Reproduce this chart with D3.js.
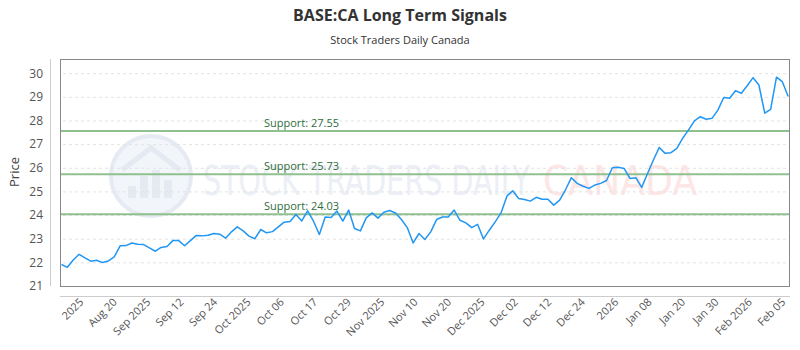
<!DOCTYPE html>
<html><head><meta charset="utf-8">
<script src="https://cdn.jsdelivr.net/npm/d3@7/dist/d3.min.js"></script>
<style>body{margin:0;background:#fff}svg{display:block}</style>
</head><body>
<svg id="chart" width="800" height="350"></svg>
<script>
const prices = [
  21.91,21.79,22.10,22.34,22.19,22.05,22.09,21.99,22.06,22.23,
  22.70,22.71,22.82,22.77,22.75,22.61,22.47,22.63,22.67,22.92,
  22.92,22.70,22.92,23.14,23.12,23.15,23.22,23.19,23.02,23.29,
  23.50,23.33,23.11,23.00,23.39,23.25,23.30,23.50,23.70,23.73,
  24.02,23.75,24.18,23.74,23.18,23.92,23.90,24.17,23.74,24.21,
  23.43,23.33,23.88,24.09,23.87,24.12,24.19,24.09,23.81,23.47,
  22.82,23.22,22.97,23.29,23.81,23.92,23.92,24.21,23.78,23.67,
  23.47,23.61,22.99,23.36,23.71,24.09,24.80,25.03,24.70,24.66,
  24.59,24.75,24.67,24.67,24.42,24.63,25.07,25.58,25.34,25.22,
  25.13,25.27,25.34,25.46,26.00,26.02,25.97,25.55,25.58,25.17,
  25.76,26.33,26.86,26.61,26.64,26.82,27.25,27.60,27.98,28.16,
  28.05,28.09,28.44,28.97,28.94,29.26,29.15,29.47,29.81,29.50,
  28.31,28.47,29.83,29.64,29.01
];
const supportLevels = [24.03, 25.73, 27.55];
const yTicks = [21,22,23,24,25,26,27,28,29,30];
const xTickLabels = ["2025","Aug 20","Sep 2025","Sep 12","Sep 24","Oct 2025","Oct 06","Oct 17","Oct 29","Nov 2025","Nov 10","Nov 20","Dec 2025","Dec 02","Dec 12","Dec 24","2026","Jan 08","Jan 20","Jan 30","Feb 2026","Feb 05"];
const titleText = "BASE:CA Long Term Signals";
const subtitleText = "Stock Traders Daily Canada";

const svg = d3.select("#chart");
const P = {l:60, r:790, t:59, b:286};
const font = "'Open Sans', 'DejaVu Sans', sans-serif";

const x = d3.scaleLinear().domain([0, prices.length-1]).range([61.5, 788.2]);
const y = d3.scaleLinear().domain([21, 30.6]).range([P.b, P.t]);
const xt = d3.scalePoint().domain(xTickLabels).range([78, 780]);

// title
svg.append("text").attr("x",400).attr("y",21).attr("text-anchor","middle")
  .attr("font-family",font).attr("font-weight","bold").attr("font-size",16).attr("fill","#333")
  .text(titleText);
svg.append("text").attr("x",400).attr("y",44).attr("text-anchor","middle")
  .attr("font-family",font).attr("font-size",11).attr("fill","#333")
  .text(subtitleText);

// watermark
const wm = svg.append("g").attr("opacity",0.9);
wm.append("circle").attr("cx",151).attr("cy",176).attr("r",40)
  .attr("fill","#f1f4fa").attr("stroke","#e4e8f2").attr("stroke-width",4);
[[128,186,8,26],[140,176,8,36],[152,170,8,42],[164,180,8,32]].forEach(b=>{
  wm.append("rect").attr("x",b[0]).attr("y",b[1]).attr("width",b[2]).attr("height",b[3]-14).attr("fill","#e2e7f1");
});
wm.append("path").attr("d","M122,170 L151,148 L180,170").attr("fill","none").attr("stroke","#e2e7f1").attr("stroke-width",5);
wm.append("text").attr("x",203).attr("y",195).attr("font-family","'DejaVu Sans Condensed','DejaVu Sans',sans-serif")
  .attr("font-stretch","condensed").attr("font-size",40).attr("fill","#ebeef5")
  .attr("textLength",327).attr("lengthAdjust","spacingAndGlyphs").text("STOCK TRADERS DAILY");
wm.append("text").attr("x",543).attr("y",195).attr("font-family","'DejaVu Sans Condensed','DejaVu Sans',sans-serif")
  .attr("font-stretch","condensed").attr("font-size",40).attr("fill","#fde4e4")
  .attr("textLength",154).attr("lengthAdjust","spacingAndGlyphs").text("CANADA");

// grid
svg.append("g").selectAll("line").data(yTicks.slice(1)).join("line")
  .attr("x1",63).attr("x2",786).attr("y1",d=>y(d)+0.5).attr("y2",d=>y(d)+0.5)
  .attr("stroke","#e3e3e3").attr("stroke-dasharray","3,3");

// y axis
const ya = svg.append("g").attr("transform","translate(50,0)")
  .call(d3.axisLeft(y).tickValues(yTicks).tickSize(0).tickPadding(7).tickFormat(d3.format("d")));
ya.select(".domain").attr("stroke","#ccc").attr("d",`M0.5,${P.t}V${P.b}`);
ya.selectAll("text").attr("font-family",font).attr("font-size",12).attr("fill","#555");

// x axis
const xa = svg.append("g").attr("transform","translate(0,296)")
  .call(d3.axisBottom(xt).tickSize(0).tickPadding(0));
xa.select(".domain").attr("stroke","#ccc").attr("d",`M${P.l},0.5H${P.r}`);
xa.selectAll("text").attr("font-family",font).attr("font-size",11).attr("fill","#555")
  .attr("text-anchor","end").attr("dy","0.35em").attr("transform","translate(3,4) rotate(-45)");

// y label
svg.append("text").attr("transform","translate(19,172) rotate(-90)").attr("text-anchor","middle")
  .attr("font-family",font).attr("font-size",13).attr("fill","#444").text("Price");

// support lines
const sg = svg.append("g");
sg.selectAll("line").data(supportLevels).join("line")
  .attr("x1",P.l).attr("x2",P.r).attr("y1",d=>y(d)).attr("y2",d=>y(d))
  .attr("stroke","#8fc08f").attr("stroke-width",2);
sg.selectAll("text").data(supportLevels).join("text")
  .attr("x",264).attr("y",d=>y(d)-4.5).attr("font-family",font).attr("font-size",11)
  .attr("fill","#2f6e3b").text(d=>"Support: "+d.toFixed(2));

// price line
svg.append("path").datum(prices)
  .attr("d", d3.line().x((d,i)=>x(i)).y(d=>y(d)))
  .attr("fill","none").attr("stroke","#2196f3").attr("stroke-width",1.5).attr("stroke-linejoin","round");

// plot border
svg.append("rect").attr("x",P.l+0.5).attr("y",P.t+0.5).attr("width",P.r-P.l-1).attr("height",P.b-P.t)
  .attr("fill","none").attr("stroke","#888");
</script>
</body></html>
